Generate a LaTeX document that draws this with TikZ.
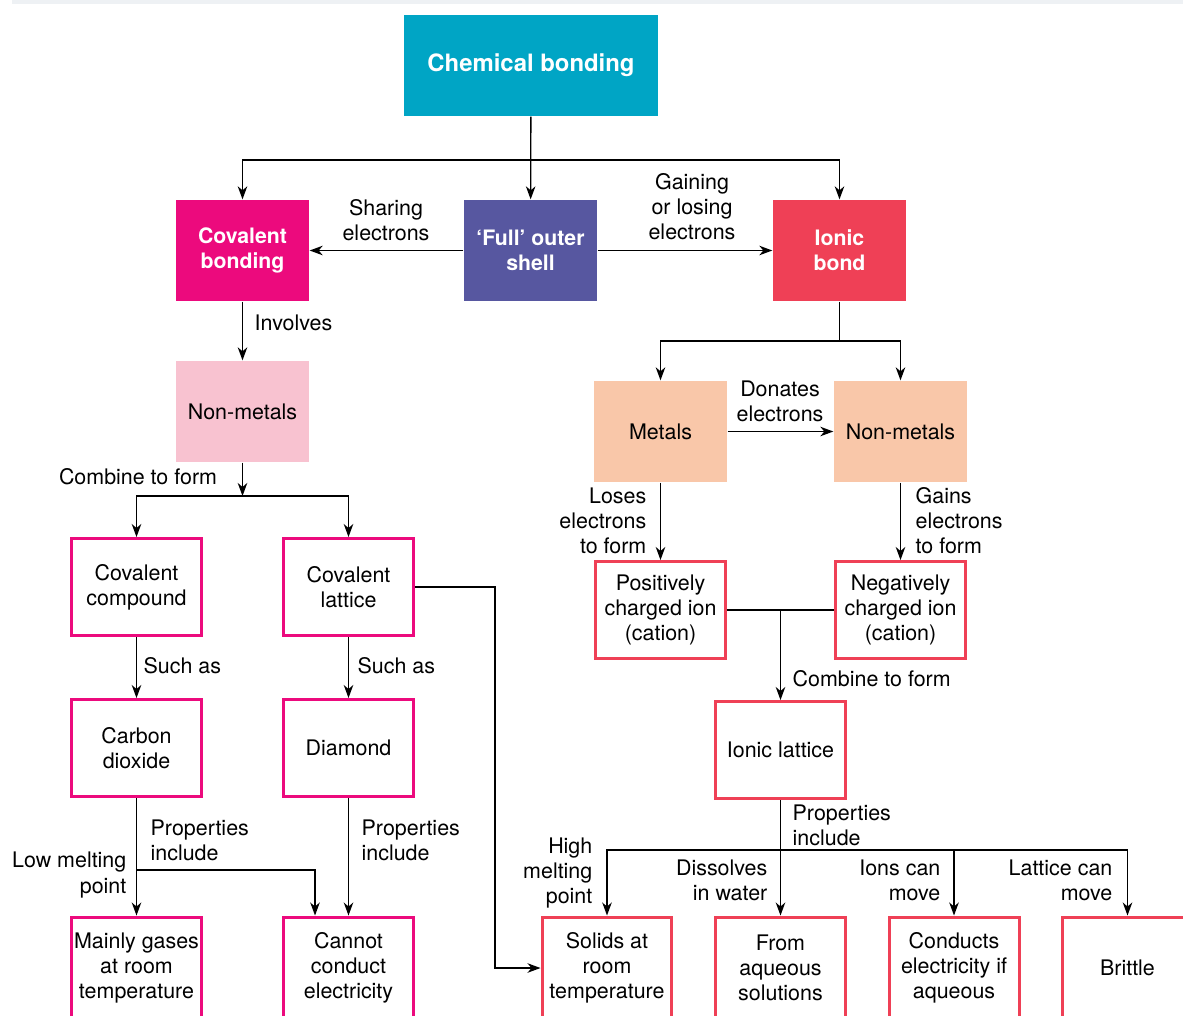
\documentclass[tikz,border=0pt]{standalone}
\usepackage{fontspec}
\setmainfont{TeX Gyre Heros}
\usetikzlibrary{arrows.meta}
\definecolor{cbTeal}{HTML}{00A5C5}
\definecolor{cbMagenta}{HTML}{EC0A7D}
\definecolor{cbPurple}{HTML}{5757A0}
\definecolor{cbRed}{HTML}{EF4056}
\definecolor{cbPink}{HTML}{F8C2D0}
\definecolor{cbPeach}{HTML}{F9C7A9}
\definecolor{cbRule}{HTML}{EEF1F4}

\begin{document}
\begin{tikzpicture}[x=0.02cm, y=-0.02cm,
	every node/.style={font=\fontsize{12.2}{14.3}\selectfont},
	headbox/.style={fill=#1, text=white, font=\fontsize{12.1}{14.3}\selectfont\bfseries,
		minimum width=2.66cm, minimum height=2.02cm, align=center, inner sep=0},
	tintbox/.style={fill=#1, minimum width=2.66cm, minimum height=2.02cm, align=center, inner sep=0},
	outbox/.style={draw=#1, line width=0.6mm, minimum width=2.6cm, minimum height=1.94cm, align=center, inner sep=0},
	lastbox/.style={outbox=#1, minimum height=2.04cm},
	note/.style={inner sep=0, align=left, anchor=west},
	rnote/.style={inner sep=0, align=right, anchor=east},
	cnote/.style={inner sep=0, align=center},
	arr/.style={-{Stealth[length=2.6mm,width=1.9mm,inset=0.8mm]}},
	line width=0.27mm]
	\useasboundingbox (0,0) rectangle (1183,1015);
	\draw[cbRule, line width=0.8mm] (12,2) -- (1183,2);

	% top row
	\node[headbox=cbTeal, minimum width=5.08cm, font=\fontsize{13.6}{16}\selectfont\bfseries] (chem) at (531,65.5) {Chemical bonding};
	\node[headbox=cbMagenta] (covb) at (242.5,250.5) {Covalent\\bonding};
	\node[headbox=cbPurple] (shell) at (530.5,250.5) {`Full' outer\\shell};
	\node[headbox=cbRed] (ionic) at (839.5,250.5) {Ionic\\bond};

	% covalent side
	\node[tintbox=cbPink] (nonmetL) at (242.5,411.5) {Non-metals};
	\node[outbox=cbMagenta] (covcomp) at (136.5,587) {Covalent\\compound};
	\node[outbox=cbMagenta] (covlat) at (348.5,587) {Covalent\\lattice};
	\node[outbox=cbMagenta] (co2) at (136.5,748) {Carbon\\dioxide};
	\node[outbox=cbMagenta] (diamond) at (348.5,748) {Diamond};
	\node[lastbox=cbMagenta] (gases) at (136.5,968) {Mainly gases\\at room\\temperature};
	\node[lastbox=cbMagenta] (cannot) at (348.5,968) {Cannot\\conduct\\electricity};

	% ionic side
	\node[tintbox=cbPeach] (metals) at (660.5,431.5) {Metals};
	\node[tintbox=cbPeach] (nonmetR) at (900.5,431.5) {Non-metals};
	\node[outbox=cbRed] (pos) at (660.5,610) {Positively\\charged ion\\(cation)};
	\node[outbox=cbRed] (neg) at (900.5,610) {Negatively\\charged ion\\(cation)};
	\node[outbox=cbRed] (ilat) at (780.5,750) {Ionic lattice};
	\node[lastbox=cbRed] (solids) at (607,968) {Solids at\\room\\temperature};
	\node[lastbox=cbRed] (aqueous) at (780.5,968) {From\\aqueous\\solutions};
	\node[lastbox=cbRed] (conducts) at (954,968) {Conducts\\electricity if\\aqueous};
	\node[lastbox=cbRed] (brittle) at (1127.5,968) {Brittle};

	% connectors
	\coordinate (topsplit) at (531,160);
	\draw[arr] (chem) -- (shell);
	\draw[arr] (topsplit) -| (covb);
	\draw[arr] (topsplit) -| (ionic);
	\draw[arr] (shell) -- (covb);
	\draw[arr] (shell) -- (ionic);
	\draw[arr] (covb) -- (nonmetL);

	\coordinate (nmsplit) at (242.5,496);
	\draw[arr] (nonmetL) -- (nmsplit);
	\draw[arr] (nmsplit) -| (covcomp);
	\draw[arr] (nmsplit) -| (covlat);
	\draw[arr] (covcomp) -- (co2);
	\draw[arr] (covlat) -- (diamond);
	\coordinate (lowsplit) at (136.5,870);
	\draw[arr] (co2) -- (gases);
	\draw[arr] (lowsplit) -| ([xshift=-0.67cm]cannot.north);
	\draw[arr] (diamond) -- (cannot);
	\coordinate (bend) at (495,750);
	\draw[arr] (covlat.east) -| (bend) |- (solids.west);

	\coordinate (ionsplit) at (839.5,341);
	\draw (ionic) -- (ionsplit);
	\draw[arr] (ionsplit) -| (metals);
	\draw[arr] (ionsplit) -| (nonmetR);
	\draw[arr] (metals) -- (nonmetR);
	\draw[arr] (metals) -- (pos);
	\draw[arr] (nonmetR) -- (neg);
	\coordinate (join) at (780.5,610);
	\draw (pos) -- (neg);
	\draw[arr] (join) -- (ilat);

	\coordinate (propsplit) at (780.5,850);
	\draw (ilat) -- (propsplit);
	\draw[arr] (propsplit) -- (aqueous);
	\draw[arr] (propsplit) -| (solids);
	\draw[arr] (propsplit) -| (conducts);
	\draw[arr] (propsplit) -| (brittle);

	% labels
	\node[cnote] (sharing) at (386,220) {Sharing\\electrons};
	\node[cnote] (gaining) at (692,207) {Gaining\\or losing\\electrons};
	\node[note] (involves) at (254,323) {Involves};
	\node[cnote] (combineL) at (138,477) {Combine to form};
	\node[note] (suchA) at (143,666) {Such as};
	\node[note] (suchB) at (357,666) {Such as};
	\node[note] (propA) at (150,840) {Properties\\include};
	\node[rnote] (lowmelt) at (127,875) {Low melting\\point};
	\node[note] (propB) at (361,840) {Properties\\include};
	\node[cnote] (donates) at (780,401) {Donates\\electrons};
	\node[rnote] (loses) at (647,521) {Loses\\electrons\\to form};
	\node[note] (gains) at (915,521) {Gains\\electrons\\to form};
	\node[note] (combineR) at (792,679) {Combine to form};
	\node[note] (propC) at (792,825) {Properties\\include};
	\node[rnote] (highmelt) at (593,873) {High\\melting\\point};
	\node[rnote] (dissolves) at (768,880) {Dissolves\\in water};
	\node[rnote] (ionsmove) at (941,880) {Ions can\\move};
	\node[rnote] (latmove) at (1113,880) {Lattice can\\move};
\end{tikzpicture}
\end{document}
